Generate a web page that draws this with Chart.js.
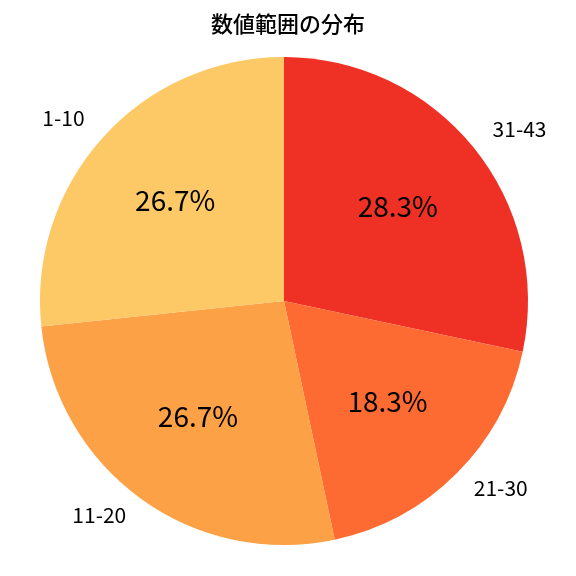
<!DOCTYPE html>
<html>
<head>
<meta charset="utf-8">
<script src="https://cdn.jsdelivr.net/npm/chart.js@4"></script>
<style>
  html, body { margin: 0; padding: 0; background: #fff; }
  #wrap { width: 576px; height: 576px; }
</style>
</head>
<body>
<div id="wrap"><canvas id="cv" width="576" height="576"></canvas></div>
<script>
const TITLE = "数値範囲の分布"
const labels = ["31-43", "21-30", "11-20", "1-10"]
const counts = [17, 11, 16, 16]
const colors = ["#ee3124", "#fd6b33", "#fca146", "#fdc866"]
const FONT = "'Noto Sans CJK JP', 'Noto Sans', sans-serif"

// draws title, outer category labels and percentages like matplotlib's autopct
const pieText = {
  id: "pieText",
  afterDraw(chart) {
    const ctx = chart.ctx
    const total = counts.reduce((a, b) => a + b, 0)
    ctx.save()
    ctx.fillStyle = "#000"
    ctx.font = "500 22px " + FONT
    ctx.textAlign = "center"
    ctx.textBaseline = "middle"
    ctx.fillText(TITLE, 288, 24)

    chart.getDatasetMeta(0).data.forEach((arc, i) => {
      const mid = (arc.startAngle + arc.endAngle) / 2
      const c = Math.cos(mid), s = Math.sin(mid)
      const r = arc.outerRadius
      // outer label
      ctx.font = "21px " + FONT
      ctx.textAlign = c >= 0 ? "left" : "right"
      ctx.fillText(labels[i], arc.x + c * r * 1.1, arc.y + s * r * 1.1 - 3)
      // percentage
      ctx.font = "28px " + FONT
      ctx.textAlign = "center"
      const pct = (counts[i] / total * 100).toFixed(1) + "%"
      ctx.fillText(pct, arc.x + c * r * 0.6, arc.y + s * r * 0.6 - 3)
    })
    ctx.restore()
  }
}

new Chart(document.getElementById("cv").getContext("2d"), {
  type: "pie",
  data: {
    labels: labels,
    datasets: [{
      data: counts,
      backgroundColor: colors,
      borderWidth: 0
    }]
  },
  options: {
    responsive: false,
    animation: false,
    layout: { padding: { top: 57, bottom: 31, left: 40, right: 48 } },
    plugins: {
      legend: { display: false },
      tooltip: { enabled: false },
      title: { display: false }
    }
  },
  plugins: [pieText]
})
</script>
</body>
</html>
